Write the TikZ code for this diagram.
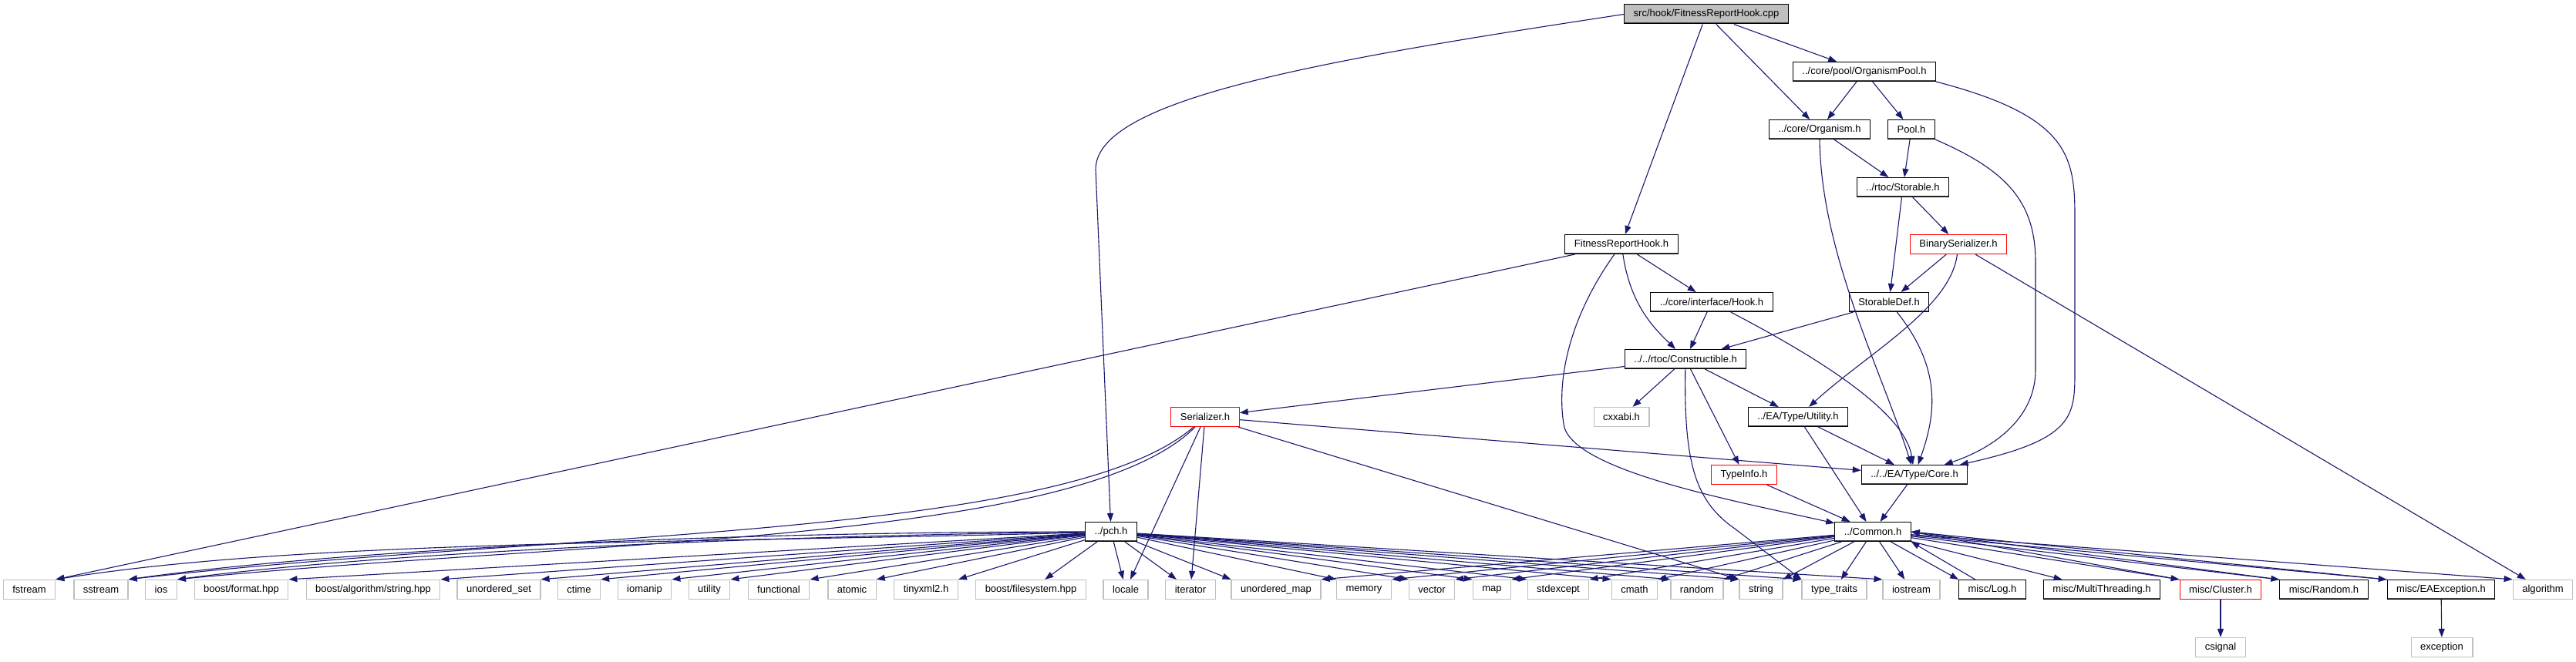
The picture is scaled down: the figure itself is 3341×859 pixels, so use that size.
\documentclass[tikz,border=0pt]{standalone}
\usepackage{fontspec}
\setmainfont{Liberation Sans}
\usetikzlibrary{arrows.meta}
\definecolor{edgeblue}{HTML}{191970}
\definecolor{extgray}{HTML}{BFBFBF}
\definecolor{shadegray}{HTML}{404040}

\begin{document}
\begin{tikzpicture}[
    x=1pt, y=-1pt,
    every node/.style={font=\fontsize{13}{15}\selectfont},
    hdr/.style={draw=black, line width=1pt, fill=white, minimum height=25pt, inner xsep=12pt, inner ysep=0pt,
        path picture={\draw[shadegray, line width=3.5pt] (path picture bounding box.south west) -- (path picture bounding box.south east);}},
    src/.style={hdr, fill=extgray},
    redhdr/.style={draw=red, line width=1.2pt, fill=white, minimum height=25pt, inner xsep=12pt, inner ysep=0pt},
    ext/.style={draw=extgray, line width=1.3pt, fill=white, minimum height=25pt, inner xsep=12pt, inner ysep=0pt},
    inc/.style={-{Triangle[length=11pt,width=8pt]}, edgeblue, line width=1.1pt}
]
\useasboundingbox (0,0) rectangle (3341,859);

% project headers
\node[src] (cpp) at (2213,18.5) {src/hook/FitnessReportHook.cpp};
\node[hdr] (orgpool) at (2418,93) {../core/pool/OrganismPool.h};
\node[hdr] (organism) at (2360,168) {../core/Organism.h};
\node[hdr] (poolh) at (2479,168) {Pool.h};
\node[hdr] (storable) at (2468,243) {../rtoc/Storable.h};
\node[redhdr] (binser) at (2540,317) {BinarySerializer.h};
\node[hdr] (frhook) at (2103,317) {FitnessReportHook.h};
\node[hdr] (hook) at (2220,392) {../core/interface/Hook.h};
\node[hdr] (stdef) at (2450,392) {StorableDef.h};
\node[hdr] (constr) at (2186,466) {../../rtoc/Constructible.h};
\node[ext] (cxxabi) at (2103,541) {cxxabi.h};
\node[hdr] (util) at (2332,541) {../EA/Type/Utility.h};
\node[redhdr] (ser) at (1563,541) {Serializer.h};
\node[redhdr] (typeinfo) at (2262,616) {TypeInfo.h};
\node[hdr] (core) at (2483,616) {../../EA/Type/Core.h};
\node[hdr] (pch) at (1441,690) {../pch.h};
\node[hdr] (common) at (2429,690) {../Common.h};

% bottom row
\node[ext] (fstream) at (38,765) {fstream};
\node[ext] (sstream) at (131,765) {sstream};
\node[ext] (ios) at (209,765) {ios};
\node[ext] (bformat) at (313,765) {boost/format.hpp};
\node[ext] (balgo) at (484,765) {boost/algorithm/string.hpp};
\node[ext] (uset) at (647,765) {unordered\_set};
\node[ext] (ctime) at (751,765) {ctime};
\node[ext] (iomanip) at (836,765) {iomanip};
\node[ext] (utilityh) at (920,765) {utility};
\node[ext] (functional) at (1010,765) {functional};
\node[ext] (atomic) at (1105,765) {atomic};
\node[ext] (tinyxml) at (1201,765) {tinyxml2.h};
\node[ext] (bfs) at (1337,765) {boost/filesystem.hpp};
\node[ext] (locale) at (1460,765) {locale};
\node[ext] (iterator) at (1544,765) {iterator};
\node[ext] (umap) at (1655,765) {unordered\_map};
\node[ext] (memory) at (1769,765) {memory};
\node[ext] (vector) at (1857,765) {vector};
\node[ext] (map) at (1935,765) {map};
\node[ext] (stdexcept) at (2021,765) {stdexcept};
\node[ext] (cmath) at (2120,765) {cmath};
\node[ext] (random) at (2201,765) {random};
\node[ext] (string) at (2284,765) {string};
\node[ext] (ttraits) at (2379,765) {type\_traits};
\node[ext] (iostream) at (2479,765) {iostream};
\node[hdr] (log) at (2584,765) {misc/Log.h};
\node[hdr] (mthread) at (2726,765) {misc/MultiThreading.h};
\node[redhdr] (cluster) at (2880,765) {misc/Cluster.h};
\node[hdr] (mrandom) at (3014,765) {misc/Random.h};
\node[hdr] (eaexc) at (3166,765) {misc/EAException.h};
\node[ext] (algorithm) at (3298,765) {algorithm};
\node[ext] (csignal) at (2880,840) {csignal};
\node[ext] (exception) at (3167,840) {exception};

% includes of the source file
\draw[inc] (cpp.west) .. controls (1700,80) and (1421,130) .. (1421,220) -- (pch);
\draw[inc] (cpp) -- (frhook);
\draw[inc] (cpp) -- (organism);
\draw[inc] (cpp) -- (orgpool);

% core headers
\draw[inc] (orgpool) -- (organism);
\draw[inc] (orgpool) -- (poolh);
\draw[inc] (orgpool.south east) .. controls (2680,150) and (2691,200) .. (2691,280) -- (2691,480) .. controls (2691,540) and (2691,570) .. (core);
\draw[inc] (organism) -- (storable);
\draw[inc] (organism.south) .. controls (2362,330) and (2440,480) .. (core);
\draw[inc] (poolh) -- (storable);
\draw[inc] (poolh.south east) .. controls (2600,220) and (2640,260) .. (2640,340) -- (2640,480) .. controls (2640,540) and (2590,580) .. (core);
\draw[inc] (storable) -- (stdef);
\draw[inc] (storable) -- (binser);
\draw[inc] (binser) -- (stdef);
\draw[inc] (binser) .. controls (2530,400) and (2420,460) .. (util);
\draw[inc] (binser) -- (algorithm);
\draw[inc] (stdef) -- (constr);
\draw[inc] (stdef) .. controls (2520,480) and (2510,540) .. (core);
\draw[inc] (frhook) -- (fstream.north east);
\draw[inc] (frhook) -- (hook);
\draw[inc] (frhook) .. controls (2115,400) and (2150,430) .. (constr);
\draw[inc] (frhook) .. controls (2030,420) and (2020,500) .. (2028,550) .. controls (2035,610) and (2250,650) .. (common);
\draw[inc] (hook) -- (constr);
\draw[inc] (hook) .. controls (2340,455) and (2470,530) .. (core);
\draw[inc] (constr) -- (ser);
\draw[inc] (constr) -- (cxxabi);
\draw[inc] (constr) -- (util);
\draw[inc] (constr) -- (typeinfo);
\draw[inc] (constr) .. controls (2184,600) and (2198,650) .. (2250,686) -- (ttraits.north west);
\draw[inc] (util) -- (core);
\draw[inc] (util) -- (common);
\draw[inc] (core) -- (common);
\draw[inc] (typeinfo) -- (common);

% Serializer.h
\draw[inc] (ser) -- (core);
\draw[inc] (ser) -- (locale);
\draw[inc] (ser) -- (iterator);
\draw[inc] (ser) -- (string.north west);
\draw[inc] (ser) .. controls (1380,700) and (700,690) .. (sstream.north east);
\draw[inc] (ser) .. controls (1400,705) and (760,700) .. (ios.north east);

% pch.h
\draw[inc] (pch) .. controls (900,705) and (400,700) .. (fstream.north east);
\draw[inc] (pch) .. controls (950,690) and (450,712) .. (sstream.north east);
\draw[inc] (pch) .. controls (1000,695) and (500,716) .. (ios.north east);
\draw[inc] (pch) -- (bformat.north east);
\draw[inc] (pch) -- (balgo.north east);
\draw[inc] (pch) -- (uset.north east);
\draw[inc] (pch) -- (ctime.north east);
\draw[inc] (pch) -- (iomanip.north east);
\draw[inc] (pch) -- (utilityh.north east);
\draw[inc] (pch) -- (functional.north east);
\draw[inc] (pch) -- (atomic.north east);
\draw[inc] (pch) -- (tinyxml.north east);
\draw[inc] (pch) -- (bfs);
\draw[inc] (pch) -- (locale);
\draw[inc] (pch) -- (iterator);
\draw[inc] (pch) -- (umap.north west);
\draw[inc] (pch) -- (memory.north west);
\draw[inc] (pch) -- (vector.north west);
\draw[inc] (pch) -- (map.north west);
\draw[inc] (pch) -- (stdexcept.north west);
\draw[inc] (pch) -- (cmath.north west);
\draw[inc] (pch) -- (random.north west);
\draw[inc] (pch) -- (string.north west);
\draw[inc] (pch) -- (ttraits.north west);
\draw[inc] (pch) -- (iostream.north west);

% Common.h
\draw[inc] (common) -- (umap.north east);
\draw[inc] (common) -- (memory.north east);
\draw[inc] (common) -- (vector.north east);
\draw[inc] (common) -- (map.north east);
\draw[inc] (common) -- (stdexcept.north east);
\draw[inc] (common) -- (cmath.north east);
\draw[inc] (common) -- (random.north east);
\draw[inc] (common) -- (string.north east);
\draw[inc] (common) -- (ttraits);
\draw[inc] (common) -- (iostream);
\draw[inc] (common) -- (log.north west);
\draw[inc] (log) -- (common.south east);
\draw[inc] (common) -- (mthread);
\draw[inc] (common) -- (cluster.north west);
\draw[inc] (cluster.north west) -- (common.east);
\draw[inc] (common) -- (mrandom.north west);
\draw[inc] (mrandom.north west) -- (common.east);
\draw[inc] (common) -- (eaexc.north west);
\draw[inc] (eaexc.north west) -- (common.east);
\draw[inc] (common) -- (algorithm.north west);
\draw[inc] (cluster) -- (csignal);
\draw[inc] (eaexc) -- (exception);
\end{tikzpicture}
\end{document}
